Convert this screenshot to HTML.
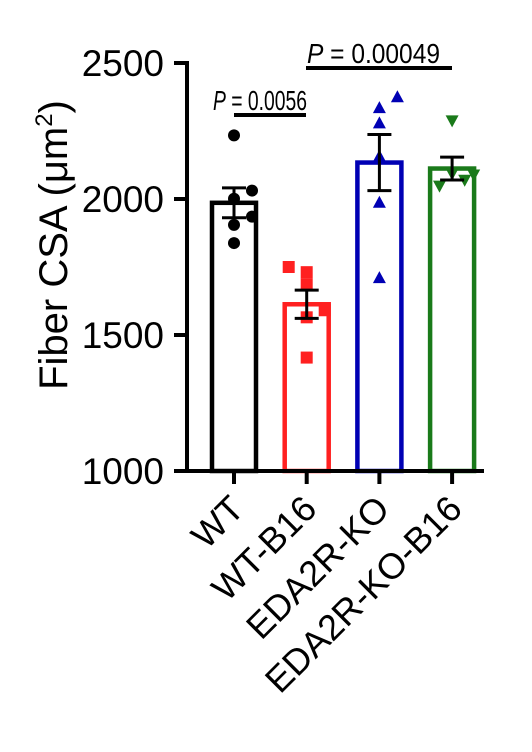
<!DOCTYPE html>
<html><head><meta charset="utf-8"><style>
html,body{margin:0;padding:0;background:#fff;}
svg{display:block;font-family:"Liberation Sans",Arial,sans-serif;}
</style></head><body>
<svg id="chart" width="532" height="752" viewBox="0 0 532 752"></svg>
<script>
const categories = ["WT","WT-B16","EDA2R-KO","EDA2R-KO-B16"];
const means = [1986, 1613, 2134, 2112];
const sems = [55, 52, 103, 42];
const ptsWT = [2234, 2031, 2001, 1935, 1905, 1838];
const ptsWTB16 = [1750, 1731, 1687, 1591, 1565, 1417];
const ptsKO = [2374, 2334, 2278, 2156, 1986, 1709];
const ptsKOB16 = [2289, 2094, 2071, 2049, 2090, 2100];
const yTicks = [1000, 1500, 2000, 2500];
const jitterWT = [0,1,0,1,0,0];
const jitterWTB16 = [-1,0,0,1,0,0];
const jitterKO = [1,0,0,0,0,0];
const jitterKOB16 = [0,0,0.7,-0.7,1.2,0];
const colors = ["#000000","#ff2020","#0000b4","#1a7a1a"];
const NS="http://www.w3.org/2000/svg";
const svg=document.getElementById('chart');
const y0=471,y1=63,vmin=1000,vmax=2500;
function Y(v){return y0-(v-vmin)*(y0-y1)/(vmax-vmin);}
function X(i){return 234+i*72.7;}
function mk(tag,attrs,parent){const e=document.createElementNS(NS,tag);for(const k in attrs)e.setAttribute(k,attrs[k]);(parent||svg).appendChild(e);return e;}
categories.forEach((c,i)=>{
  const r=mk('rect',{x:X(i)-22,y:Y(means[i]),width:44,height:y0-Y(means[i]),fill:'none',stroke:colors[i],'stroke-width':4.5});
  
  
});
const allPts=[ptsWT,ptsWTB16,ptsKO,ptsKOB16];
const jit=[jitterWT,jitterWTB16,jitterKO,jitterKOB16];
allPts.forEach((arr,i)=>{
  arr.forEach((v,j)=>{
    const cx=X(i)+jit[i][j]*18, cy=Y(v);
    let e;
    if(i===0) e=mk('circle',{cx:cx,cy:cy,r:6,fill:colors[i]});
    else if(i===1) e=mk('rect',{x:cx-6,y:cy-6,width:12,height:12,fill:colors[i]});
    else if(i===2) e=mk('polygon',{points:`${cx},${cy-7} ${cx-6.5},${cy+5} ${cx+6.5},${cy+5}`,fill:colors[i]});
    else e=mk('polygon',{points:`${cx},${cy+7} ${cx-6.5},${cy-5} ${cx+6.5},${cy-5}`,fill:colors[i]});
    
    
  });
});
categories.forEach((c,i)=>{
  const g=mk('g',{stroke:'#000','stroke-width':3,fill:'none'});
  
  
  const x=X(i),t=Y(means[i]+sems[i]),b=Y(means[i]-sems[i]);
  mk('line',{x1:x,x2:x,y1:t,y2:b},g);
  mk('line',{x1:x-12,x2:x+12,y1:t,y2:t},g);
  mk('line',{x1:x-12,x2:x+12,y1:b,y2:b},g);
});
const ax=mk('g',{stroke:'#000','stroke-width':4,fill:'none'});


mk('line',{x1:187,x2:187,y1:y1-2,y2:y0+2},ax);
mk('line',{x1:185,x2:484,y1:y0,y2:y0},ax);
yTicks.forEach(v=>{
  mk('line',{x1:174,x2:187,y1:Y(v),y2:Y(v)},ax);
  const t=mk('text',{x:164,y:Y(v)+13,'text-anchor':'end','font-size':37,fill:'#000'});
  t.textContent=v;
  
  
});
categories.forEach((c,i)=>{
  mk('line',{x1:X(i),x2:X(i),y1:y0,y2:y0+13},ax);
  const ax0=X(i)+12, ay0=y0+40;
  const t=mk('text',{x:ax0,y:ay0,'text-anchor':'end','font-size':36,fill:'#000',transform:`rotate(-45 ${ax0} ${ay0})`});
  t.textContent=c;
  
  
});
const yt=mk('text',{x:67,y:245,'text-anchor':'middle','font-size':40,fill:'#000',transform:'rotate(-90 67 245)'});
yt.innerHTML='Fiber CSA (\u03bcm<tspan dy="-15" font-size="24">2</tspan><tspan dy="15">)</tspan>';


function sig(x1,x2,ly,label,tx,tl,name){
  const g=mk('g',{});
  
  
  mk('line',{x1:x1,x2:x2,y1:ly,y2:ly,stroke:'#000','stroke-width':4},g);
  const t=mk('text',{x:tx,y:ly-5,'font-size':28,fill:'#000',textLength:tl,lengthAdjust:'spacingAndGlyphs'},g);
  t.innerHTML='<tspan font-style="italic">P</tspan> = '+label;
}
sig(234,306,115,'0.0056',213,94,'p-value-wt-vs-wtb16');
sig(306,452,68,'0.00049',307,133,'p-value-wtb16-vs-kob16');
</script>
</body></html>
